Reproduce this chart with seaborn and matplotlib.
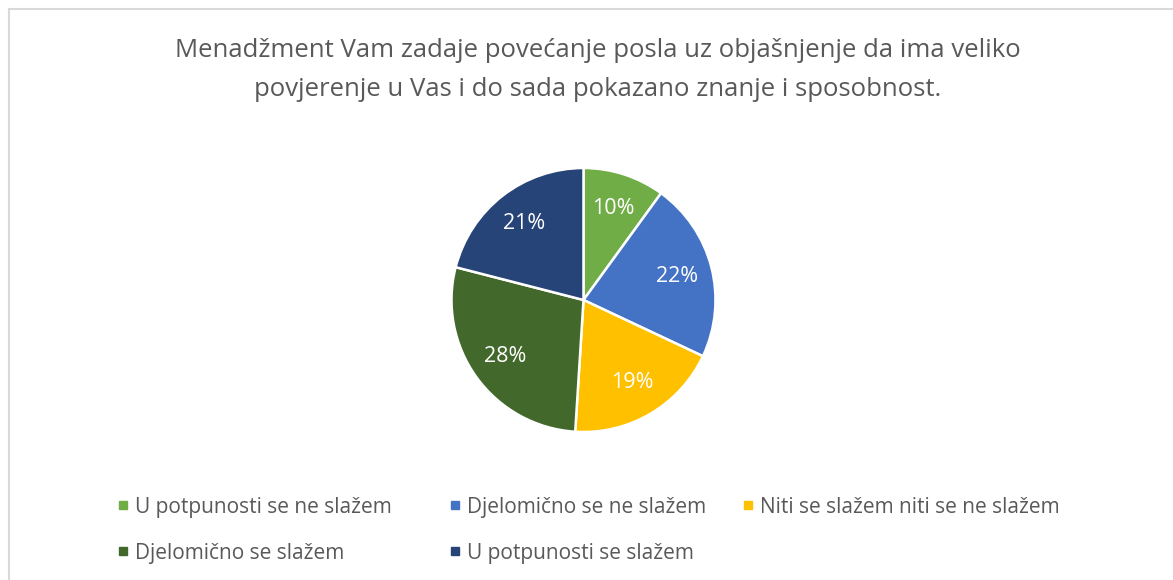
import matplotlib
matplotlib.use("Agg")
import matplotlib.pyplot as plt
from matplotlib.lines import Line2D
from matplotlib.patches import Rectangle
import seaborn as sns

categories = [
    "U potpunosti se ne slažem",
    "Djelomično se ne slažem",
    "Niti se slažem niti se ne slažem",
    "Djelomično se slažem",
    "U potpunosti se slažem",
]
shares = [10, 22, 19, 28, 21]
colors = ["#70AD47", "#4472C4", "#FFC000", "#43682B", "#264478"]
title = ("Menadžment Vam zadaje povećanje posla uz objašnjenje da ima veliko\n"
         "povjerenje u Vas i do sada pokazano znanje i sposobnost.")

sns.set_theme(style="white")
plt.rcParams["font.family"] = ["Open Sans", "DejaVu Sans"]

W, H = 1173, 580
fig = plt.figure(figsize=(W / 100, H / 100), dpi=100)
fig.patch.set_facecolor("white")

# chart frame (runs off the right and bottom edges)
fig.add_artist(Rectangle((8.5 / W, -0.1), 1.2, 1.1 - 9.5 / H, transform=fig.transFigure,
                         fill=False, edgecolor="#D9D9D9", linewidth=1.5))

fig.text(598 / W, 1 - 70 / H, title, ha="center", va="center", fontsize=18.5,
         color="#595959", linespacing=1.72)

cx, cy, r = 583.5, 300, 132
ax = fig.add_axes([(cx - r) / W, (H - cy - r) / H, 2 * r / W, 2 * r / H])
wedges, texts, autotexts = ax.pie(
    shares, colors=colors, startangle=90, counterclock=False, radius=1,
    autopct=lambda p: f"{p:.0f}%", pctdistance=0.73,
    wedgeprops=dict(edgecolor="white", linewidth=1.8),
    textprops=dict(color="white", fontsize=15.5),
)
ax.set_xlim(-1, 1)
ax.set_ylim(-1, 1)
ax.set_aspect("equal")
ax.axis("off")

# legend laid out in rows of three, one legend per column
handles = [Line2D([], [], marker="s", linestyle="none", markersize=6,
                  markerfacecolor=c, markeredgecolor=c) for c in colors]
col_x = [101, 433, 726]
for j, x in enumerate(col_x):
    fig.legend(handles[j::3], categories[j::3], loc="upper left",
               bbox_to_anchor=(x / W, 1 - 482 / H), frameon=False,
               fontsize=15, labelcolor="#595959", handletextpad=0.25,
               handlelength=0.7, labelspacing=1.2, borderpad=0.2)

fig.savefig("out.png", dpi=100, facecolor="white")
